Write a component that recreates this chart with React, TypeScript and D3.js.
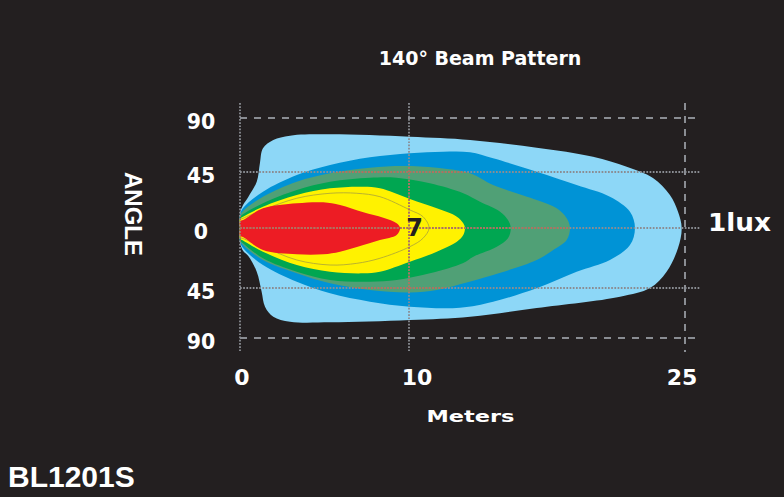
import * as d3 from 'd3'

type Pt = [number, number] // [meters, degrees]

// contour zones, outer to inner (meters, degrees)
const lightBlueZone: Pt[] = [
  [0, 0], [0, 12], [0.18, 18.5], [0.49, 25], [0.99, 37.2], [1.18, 52.5], [1.36, 64.75], [1.97, 71.7],
  [2.96, 75.3], [5.33, 76.4], [10.05, 74.4], [13.32, 71.7], [16.94, 65.25], [20.0, 57.75], [21.83, 49.4],
  [23.26, 40.2], [24.18, 26.5], [24.62, 13.1], [24.82, 0], [24.62, -15], [24.0, -32.8], [23.1, -45],
  [21.47, -52.8], [16.94, -63], [13.32, -70.8], [10.05, -73.8], [5.33, -75.9], [2.96, -75.3], [1.97, -70.8],
  [1.48, -61.8], [1.28, -48.3], [0.99, -32.8], [0.49, -21], [0.18, -17], [0, -11],
]
const blueZone: Pt[] = [
  [0, 0], [0, 10.5], [0.18, 16.1], [1.36, 29.2], [3.36, 42.6], [5.33, 50.8], [7.69, 57.25], [10.05, 60.6],
  [11.85, 61.9], [13.32, 61.4], [14.57, 56.4], [16.94, 45.25], [19.11, 34.55], [20.92, 25.15], [22.01, 13.1],
  [22.28, 0], [22.01, -12.75], [20.92, -24], [19.11, -32.8], [16.94, -45.3], [14.57, -57.3], [12.77, -62.7],
  [10.05, -61.8], [7.69, -57.3], [5.33, -49.8], [3.36, -40.3], [1.36, -27.75], [0.18, -15], [0, -10],
]
const sageZone: Pt[] = [
  [0, 0], [0, 9.5], [0.18, 13.7], [1.36, 25.15], [3.36, 37.2], [5.33, 44.0], [7.69, 48.6], [9.64, 50],
  [11.51, 48.6], [13.32, 44.0], [14.57, 34.55], [16.94, 22.5], [18.03, 15.8], [18.57, 7.8], [18.75, 0],
  [18.57, -9], [17.84, -16.5], [16.94, -24], [14.57, -35.25], [12.77, -42.2], [11.51, -46.8], [10.05, -49],
  [7.69, -46.8], [5.33, -41.5], [3.36, -34], [1.36, -24], [0.18, -12.75], [0, -9.5],
]
const greenZone: Pt[] = [
  [0, 0], [0, 8.5], [0.18, 11.0], [1.36, 19.85], [3.36, 30.5], [5.33, 37.2], [7.69, 40.4], [9.27, 40.4],
  [11.14, 35.9], [12.95, 27.9], [13.86, 21.1], [14.95, 13.1], [15.38, 6.4], [15.53, 0], [15.38, -7.7],
  [14.77, -14], [13.5, -21.5], [12.95, -26.25], [11.14, -34], [9.27, -39], [7.69, -40.3], [5.33, -39],
  [3.36, -32.8], [1.36, -22.7], [0.18, -11.5], [0, -9],
]
const yellowZone: Pt[] = [
  [0, 0], [0, 7.5], [0.18, 9.1], [1.36, 17.1], [3.36, 26.5], [5.33, 31.9], [7.28, 33.2], [8.28, 31.9],
  [10.05, 23.3], [11.51, 15.8], [12.6, 9.1], [12.95, 3.8], [13.04, 0], [12.95, -5.25], [12.6, -10.3],
  [11.51, -17.8], [10.05, -25.3], [8.28, -32.8], [7.28, -34], [5.33, -32.8], [3.36, -27.75], [1.36, -17.8],
  [0.18, -9.3], [0, -8],
]
const innerLine: Pt[] = [
  [0, 0], [0, 6.5], [0.18, 7.8], [1.36, 14.5], [3.36, 23.9], [5.33, 27.9], [6.91, 27.9], [8.28, 25.15],
  [10.05, 14.5], [10.76, 9.1], [11.09, 0], [10.76, -7.7], [10.05, -14], [8.28, -22.7], [6.91, -26.5],
  [5.33, -27.75], [3.36, -24], [1.36, -14], [0.18, -7.9], [0, -7],
]
const redZone: Pt[] = [
  [0, 0], [0, 5.5], [0.18, 6.4], [1.36, 15.8], [3.36, 19.85], [4.93, 20.65], [5.92, 18.5], [7.3, 12.6],
  [8.48, 8.3], [9.27, 3.8], [9.47, 0], [9.27, -5.25], [8.28, -9], [7.3, -12.75], [5.92, -17.8],
  [4.93, -19.7], [3.36, -19.7], [1.36, -16.5], [0.18, -6.8], [0, -6],
]

const zones = [
  { name: 'lightBlue', pts: lightBlueZone, color: '#8dd7f7' },
  { name: 'blue', pts: blueZone, color: '#0093d6' },
  { name: 'sage', pts: sageZone, color: '#50a076' },
  { name: 'green', pts: greenZone, color: '#00a651' },
  { name: 'yellow', pts: yellowZone, color: '#fff200' },
]

const xTicks = [0, 10, 25]
const yTicks = [90, 45, 0, -45, -90]
const yTickLabels = ['90', '45', '0', '45', '90']
const dottedRows = [45, 0, -45]
const dashedRows = [90, -90]
const dottedCols = [0, 10]
const dashedCols = [25]
const gridXEnd = 25.8
const gridYExtent = 102.5
const zoneLabel = { m: 10.3, a: 0, text: '7' }

const BG = '#231f20'
const GRID = '#8a8d93'
const tickFont = '"DejaVu Sans", sans-serif'

export default function App() {
  const width = 784
  const height = 497

  const x = d3.scaleLinear().domain([0, 10, 25]).range([240, 409, 685])
  const y = d3.scaleLinear().domain([-90, -45, 0, 45, 90]).range([338, 288, 228, 172, 118])

  const line = d3
    .line<Pt>()
    .x((d) => x(d[0]))
    .y((d) => y(d[1]))
    .curve(d3.curveCatmullRomClosed.alpha(0.5))

  const gridLines = (color: string) => (
    <g>
      {dashedRows.map((a) => (
        <line key={`dr${a}`} x1={x(0)} x2={x(gridXEnd)} y1={y(a)} y2={y(a)}
          stroke={color} strokeWidth={2} strokeDasharray="7 7" />
      ))}
      {dottedRows.map((a) => (
        <line key={`r${a}`} x1={x(0)} x2={x(gridXEnd)} y1={y(a)} y2={y(a)}
          stroke={color} strokeWidth={1.8} strokeDasharray="1.7 1.5" />
      ))}
      {dottedCols.map((m) => (
        <line key={`c${m}`} x1={x(m)} x2={x(m)} y1={y(gridYExtent)} y2={y(-gridYExtent)}
          stroke={color} strokeWidth={1.8} strokeDasharray="1.7 1.5" />
      ))}
      {dashedCols.map((m) => (
        <line key={`dc${m}`} x1={x(m)} x2={x(m)} y1={y(gridYExtent)} y2={y(-gridYExtent)}
          stroke={color} strokeWidth={2} strokeDasharray="7 6" />
      ))}
    </g>
  )

  const labelNudge = (v: number) => (v === 10 ? 8 : v === 25 ? -3 : 2)

  return (
    <svg width={width} height={height} style={{ position: 'absolute', left: 0, top: 0 }}>
      <defs>
        <clipPath id="warmClip">
          <path d={line(sageZone) ?? ''} />
        </clipPath>
      </defs>
      <rect width={width} height={height} fill={BG} />

      <text x={480} y={65} textAnchor="middle" fill="#fff" fontFamily={tickFont}
        fontWeight="bold" fontSize={19}>140° Beam Pattern</text>

      {zones.map((z) => (
        <path key={z.name} d={line(z.pts) ?? ''} fill={z.color} />
      ))}
      <path d={line(innerLine) ?? ''} fill="none" stroke="#a9a23a" strokeWidth={0.8} />
      <path d={line(redZone) ?? ''} fill="#ed1c24" />

      {gridLines(GRID)}
      <g clipPath="url(#warmClip)">{gridLines('#b3705a')}</g>

      <text x={x(zoneLabel.m)} y={y(zoneLabel.a) + 8} textAnchor="middle" fill={BG}
        fontFamily={tickFont} fontWeight="bold" fontSize={24}>{zoneLabel.text}</text>

      {yTicks.map((a, i) => (
        <text key={`yt${i}`} x={201} y={y(a) + 11} textAnchor="middle" fill="#fff"
          fontFamily={tickFont} fontWeight="bold" fontSize={20.5}>{yTickLabels[i]}</text>
      ))}
      {xTicks.map((m) => (
        <text key={`xt${m}`} x={x(m) + labelNudge(m)} y={385} textAnchor="middle" fill="#fff"
          fontFamily={tickFont} fontWeight="bold" fontSize={22}>{m}</text>
      ))}

      <text transform="translate(125,214) rotate(90)" textAnchor="middle" fill="#fff"
        fontFamily='"Liberation Sans", Arial, sans-serif' fontWeight="bold" fontSize={24}>ANGLE</text>

      <text x={426.5} y={421.5} fill="#fff" fontFamily={tickFont} fontWeight="bold" fontSize={16.5}
        textLength={88} lengthAdjust="spacingAndGlyphs">Meters</text>

      <text x={708} y={230.5} fill="#fff" fontFamily={tickFont} fontWeight="bold" fontSize={24}
        textLength={63} lengthAdjust="spacingAndGlyphs">1lux</text>

      <text x={8} y={487} fill="#fff" fontFamily='"Liberation Sans", Arial, sans-serif'
        fontWeight="bold" fontSize={30}>BL1201S</text>
    </svg>
  )
}
